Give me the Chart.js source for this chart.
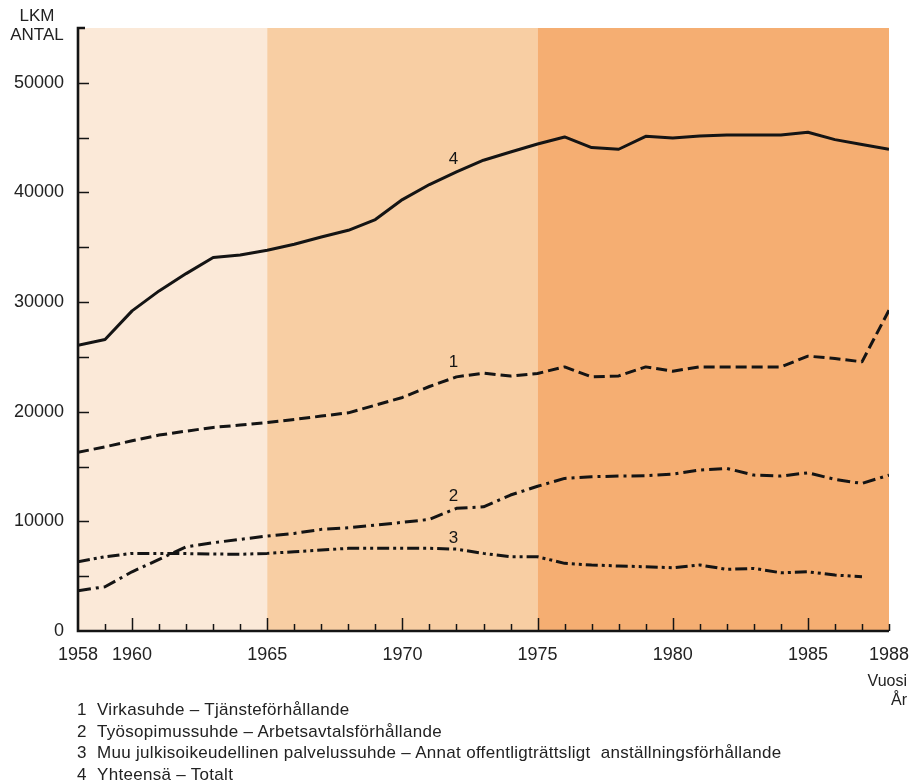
<!DOCTYPE html>
<html>
<head>
<meta charset="utf-8">
<script src="https://cdn.jsdelivr.net/npm/chart.js@4.4.0/dist/chart.umd.min.js"></script>
<style>
  body { margin: 0; background: #fff; }
  #wrap { position: relative; width: 911px; height: 782px; font-family: "Liberation Sans", Arial, sans-serif; color: #222; }
  #chart { position: absolute; left: 0; top: 0; }
  .unit { position: absolute; left: 0; width: 74px; text-align: center; font-size: 17px; line-height: 19px; }
  .xname { position: absolute; right: 4px; text-align: right; font-size: 16px; line-height: 19px; }
  #notes { position: absolute; left: 77px; top: 699px; font-size: 17px; line-height: 21.7px; white-space: nowrap; letter-spacing: 0.3px; }
  #notes span { display: inline-block; width: 20px; }
</style>
</head>
<body>
<div id="wrap">
  <canvas id="chart" width="911" height="782"></canvas>
  <div class="unit" style="top:6px">LKM<br>ANTAL</div>
  <div class="xname" style="top:671px">Vuosi<br>År</div>
  <div id="notes">
    <div><span>1</span>Virkasuhde – Tjänsteförhållande</div>
    <div><span>2</span>Työsopimussuhde – Arbetsavtalsförhållande</div>
    <div><span>3</span>Muu julkisoikeudellinen palvelussuhde – Annat offentligträttsligt&nbsp; anställningsförhållande</div>
    <div><span>4</span>Yhteensä – Totalt</div>
  </div>
</div>
<script>
const years = [1958, 1959, 1960, 1961, 1962, 1963, 1964, 1965, 1966, 1967, 1968, 1969, 1970, 1971, 1972,
  1973, 1974, 1975, 1976, 1977, 1978, 1979, 1980, 1981, 1982, 1983, 1984, 1985, 1986, 1987, 1988];

// 1 Virkasuhde
const virka = [16300, 16800, 17350, 17870, 18230, 18570, 18780, 19020, 19300, 19600, 19900, 20600, 21300, 22300, 23180,
  23520, 23250, 23490, 24090, 23180, 23270, 24090, 23700, 24090, 24090, 24090, 24090, 25070, 24860, 24550, 29260];
// 2 Työsopimussuhde
const tyo = [3670, 4040, 5400, 6530, 7680, 8050, 8360, 8660, 8900, 9270, 9420, 9660, 9910, 10180, 11190,
  11330, 12400, 13200, 13920, 14070, 14130, 14160, 14310, 14680, 14830, 14220, 14130, 14430, 13830, 13460, 14220];
// 3 Muu julkisoikeudellinen palvelussuhde
const muu = [6320, 6770, 7080, 7080, 7060, 7020, 7000, 7080, 7230, 7380, 7540, 7540, 7540, 7540, 7470,
  7080, 6770, 6770, 6170, 6020, 5930, 5860, 5770, 6020, 5620, 5710, 5310, 5400, 5100, 4950, null];
// 4 Yhteensä
const total = [26070, 26590, 29200, 31020, 32600, 34060, 34300, 34730, 35280, 35940, 36550, 37530, 39350, 40720, 41870,
  42940, 43690, 44420, 45060, 44090, 43940, 45120, 44970, 45150, 45240, 45240, 45240, 45490, 44820, 44370, 43940];

const seriesNames = ['1', '2', '3', '4'];
const yLabelTicks = [0, 10000, 20000, 30000, 40000, 50000];
const xLabelTicks = [1958, 1960, 1965, 1970, 1975, 1980, 1985, 1988];
const bandEdges = [1958, 1965, 1975, 1988];
const bandColors = ['#fbe9d8', '#f8cea3', '#f5ae72'];

const toPoints = vals => years.map((yr, i) => ({ x: yr, y: vals[i] }));

const ink = '#141414';
const datasets = [
  { label: seriesNames[0], data: toPoints(virka), borderDash: [11, 5] },
  { label: seriesNames[1], data: toPoints(tyo), borderDash: [13, 5, 3, 5] },
  { label: seriesNames[2], data: toPoints(muu), borderDash: [12, 4, 3, 4, 3, 4] },
  { label: seriesNames[3], data: toPoints(total), borderDash: [] }
].map(d => Object.assign(d, {
  borderColor: ink, borderWidth: 3, pointRadius: 0, tension: 0,
  borderCapStyle: 'butt', borderJoinStyle: 'round', spanGaps: false
}));

const decor = {
  id: 'decor',
  beforeDatasetsDraw(chart) {
    const { ctx, chartArea: a, scales: { x } } = chart;
    ctx.save();
    for (let i = 0; i < bandColors.length; i++) {
      const x0 = x.getPixelForValue(bandEdges[i]);
      const x1 = x.getPixelForValue(bandEdges[i + 1]);
      ctx.fillStyle = bandColors[i];
      ctx.fillRect(x0, a.top, x1 - x0, a.bottom - a.top);
    }
    ctx.restore();
  },
  afterDatasetsDraw(chart) {
    const { ctx, chartArea: a, scales: { x, y } } = chart;
    ctx.save();
    ctx.strokeStyle = ink;
    // axis lines
    ctx.lineWidth = 2.6;
    ctx.beginPath();
    ctx.moveTo(a.left + 7, a.top);
    ctx.lineTo(a.left, a.top);
    ctx.lineTo(a.left, a.bottom);
    ctx.lineTo(a.right, a.bottom);
    ctx.stroke();
    // inward ticks
    ctx.lineWidth = 1.5;
    ctx.beginPath();
    for (let v = 5000; v <= 50000; v += 5000) {
      const py = Math.round(y.getPixelForValue(v)) + 0.5;
      ctx.moveTo(a.left, py);
      ctx.lineTo(a.left + 11, py);
    }
    for (const yr of years) {
      if (yr === years[0]) continue;
      const px = Math.round(x.getPixelForValue(yr)) + 0.5;
      const len = (yr % 5 === 0) ? 13 : 7;
      ctx.moveTo(px, a.bottom);
      ctx.lineTo(px, a.bottom - len);
    }
    ctx.stroke();
    // series numbers at 1972
    ctx.fillStyle = ink;
    ctx.font = '17px "Liberation Sans", Arial, sans-serif';
    ctx.textAlign = 'center';
    ctx.textBaseline = 'middle';
    const at = years.indexOf(1972);
    const lift = [15, 12, 11, 13];
    [virka, tyo, muu, total].forEach((vals, i) => {
      ctx.fillText(seriesNames[i], x.getPixelForValue(1972) - 3, y.getPixelForValue(vals[at]) - lift[i]);
    });
    ctx.restore();
  }
};

new Chart(document.getElementById('chart'), {
  type: 'line',
  data: { datasets },
  plugins: [decor],
  options: {
    responsive: false,
    animation: false,
    devicePixelRatio: 1,
    layout: { padding: { left: 0, top: 28, right: 22, bottom: 0 } },
    plugins: { legend: { display: false }, tooltip: { enabled: false } },
    scales: {
      x: {
        type: 'linear', min: 1958, max: 1988,
        grid: { display: false, drawTicks: false },
        border: { display: false },
        afterBuildTicks: s => { s.ticks = xLabelTicks.map(v => ({ value: v })); },
        afterFit: s => { s.height = 151; s.paddingLeft = 0; s.paddingRight = 0; },
        ticks: {
          autoSkip: false, maxRotation: 0, padding: 13, color: '#222',
          font: { family: '"Liberation Sans", Arial, sans-serif', size: 18 },
          callback: v => String(v)
        }
      },
      y: {
        type: 'linear', min: 0, max: 55000,
        grid: { display: false, drawTicks: false },
        border: { display: false },
        afterBuildTicks: s => { s.ticks = yLabelTicks.map(v => ({ value: v })); },
        afterFit: s => { s.width = 78; },
        ticks: {
          padding: 14, color: '#222',
          font: { family: '"Liberation Sans", Arial, sans-serif', size: 18 },
          callback: v => String(v)
        }
      }
    }
  }
});
</script>
</body>
</html>
